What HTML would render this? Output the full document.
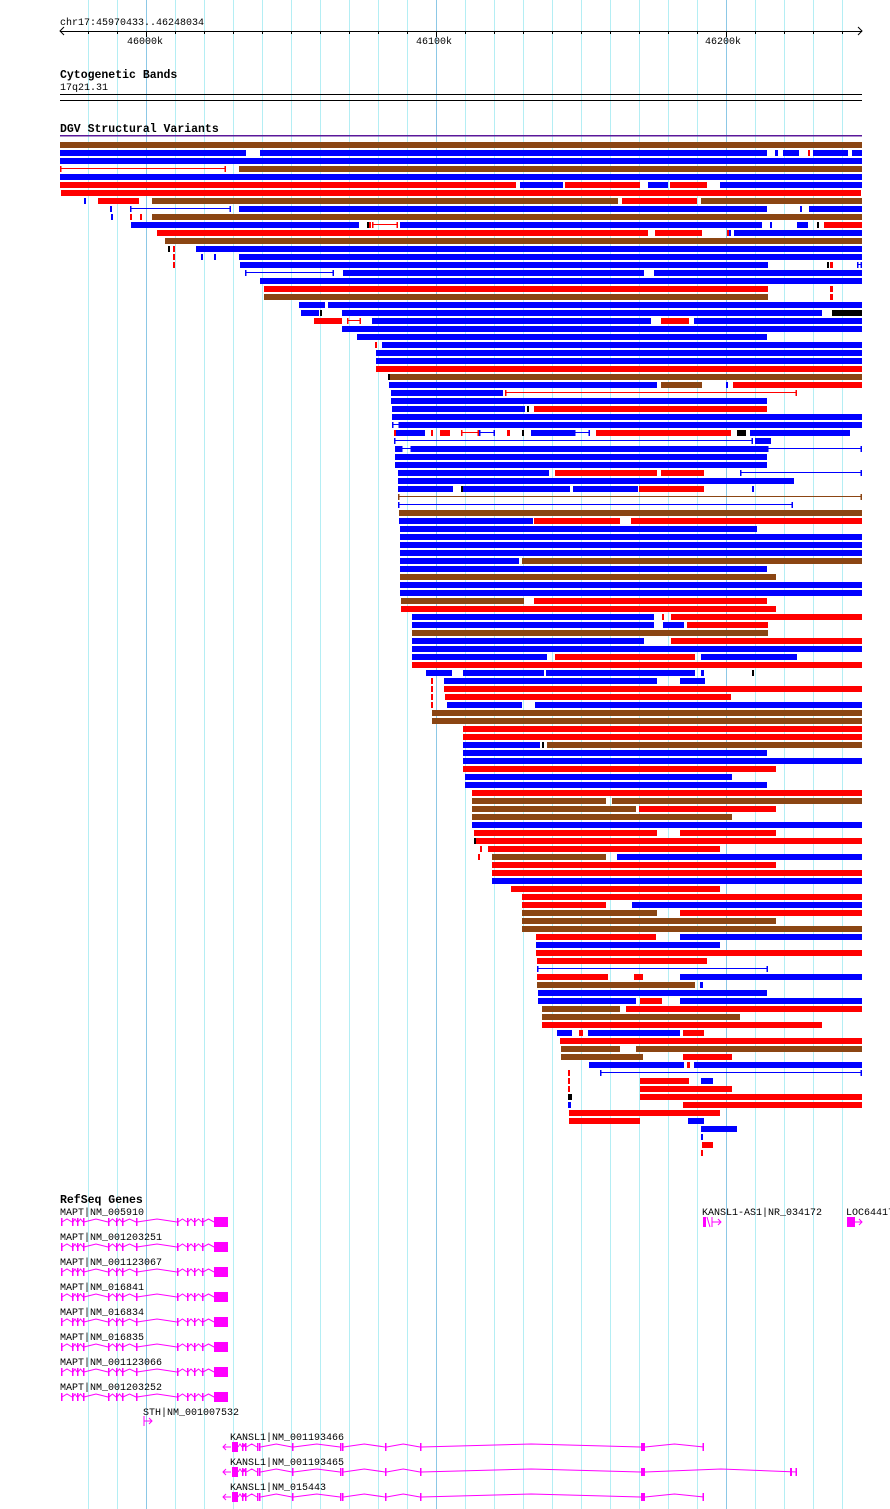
<!DOCTYPE html>
<html><head><meta charset="utf-8">
<style>
html,body{margin:0;padding:0;background:#fff;}
svg{display:block;}
text{font-family:"Liberation Mono",monospace;font-size:10px;fill:#000;}
.t{font-weight:bold;font-size:11.5px;}
</style></head><body>
<svg id="s" width="890" height="1509" xmlns="http://www.w3.org/2000/svg">
<g id="grid"></g>
<text x="60" y="25">chr17:45970433..46248034</text>
<text x="127" y="44">46000k</text>
<text x="416" y="44">46100k</text>
<text x="705" y="44">46200k</text>
<g id="axis"></g>
<text class="t" x="60" y="78">Cytogenetic Bands</text>
<text x="60" y="90">17q21.31</text>
<rect x="60" y="94" width="802" height="1" fill="#000"/>
<rect x="60" y="100" width="802" height="1" fill="#000"/>
<text class="t" x="60" y="132">DGV Structural Variants</text>
<rect x="60" y="135" width="802" height="1.5" fill="#5a189a"/>
<g id="sv"></g>
<text class="t" x="60" y="1203">RefSeq Genes</text>
<text x="60" y="1215">MAPT|NM_005910</text>
<text x="60" y="1240">MAPT|NM_001203251</text>
<text x="60" y="1265">MAPT|NM_001123067</text>
<text x="60" y="1290">MAPT|NM_016841</text>
<text x="60" y="1315">MAPT|NM_016834</text>
<text x="60" y="1340">MAPT|NM_016835</text>
<text x="60" y="1365">MAPT|NM_001123066</text>
<text x="60" y="1390">MAPT|NM_001203252</text>
<text x="143" y="1415">STH|NM_001007532</text>
<text x="230" y="1440">KANSL1|NM_001193466</text>
<text x="230" y="1465">KANSL1|NM_001193465</text>
<text x="230" y="1490">KANSL1|NM_015443</text>
<text x="702" y="1215">KANSL1-AS1|NR_034172</text>
<text x="846" y="1215">LOC644172</text>
<g id="genes"></g>
</svg>
<script>
var NS="http://www.w3.org/2000/svg";
function el(p,n,a){var e=document.createElementNS(NS,n);for(var k in a)e.setAttribute(k,a[k]);p.appendChild(e);return e;}
var G=document.getElementById('grid');
for(var x=60+29;x<862;x+=29){var dark=(x===147||x===437||x===727);
 var xx=x-1; el(G,'rect',{x:xx,y:0,width:1,height:1509,fill:dark?'#8cc8e6':'#b4eef4'});}
var A=document.getElementById('axis');
el(A,'rect',{x:60,y:31,width:802,height:1,fill:'#000'});
el(A,'path',{d:'M64,27 L60,31 L64,35 M858,27 L862,31 L858,35',stroke:'#000',fill:'none'});
for(var x=89;x<862;x+=29){el(A,'rect',{x:x-1,y:31,width:1,height:(x===147||x===437||x===727)?6:3,fill:'#000'});}
var C={b:'#0000ff',r:'#ff0000',n:'#8b4513',k:'#000000'};
var R=[
"60 862 n","60 246 b,260 767 b,775 778 b,783 799 b,808 810 r,813 848 b,852 862 b","60 862 b","60 226 R,239 862 n","60 862 b",
"60 516 r,520 563 b,565 640 r,648 668 b,670 707 r,720 862 b","61 861 r","84 86 b,98 100 r,100 139 r,152 618 n,622 697 r,701 862 n",
"110 112 b,130 231 B,239 767 b,800 802 b,809 862 b","111 113 b,130 132 r,140 142 r,152 862 n",
"131 359 b,367 369 k,369 371 r,372 398 R,400 762 b,770 772 b,797 808 b,817 819 k,824 862 r",
"157 648 r,655 702 r,727 729 r,729 731 b,734 862 b","165 862 n","168 170 k,173 175 r,196 862 b","173 175 r,201 203 b,214 216 b,239 862 b",
"173 175 r,240 768 b,827 829 k,830 833 r,857 862 B","245 334 B,343 644 b,654 862 b","260 862 b","264 768 r,830 833 r","264 768 n,830 833 r",
"299 325 b,328 862 b","301 319 b,320 322 k,342 822 b,832 862 k","314 342 r,347 361 R,372 651 b,661 689 r,694 862 b","342 862 b","357 767 b",
"375 377 r,382 862 b","376 862 b","376 862 b","376 862 r","388 390 k,390 862 n","389 657 b,661 702 n,726 728 b,733 862 r",
"391 503 b,505 797 R","391 767 b","392 525 b,527 529 k,534 767 r","392 862 b","392 400 B,400 862 b",
"394 396 r,396 425 b,431 433 r,440 450 r,461 479 R,479 495 B,507 510 r,522 524 k,531 574 b,574 590 B,596 731 r,737 746 k,750 850 b",
"394 753 B,755 771 b","395 401 b,401 412 B,412 767 b,767 862 B","395 767 b","395 767 b",
"398 549 b,555 657 r,661 704 r,740 862 B","398 794 b","398 453 b,461 463 k,463 570 b,573 638 b,639 704 r,752 754 b",
"398 862 N","398 793 B","399 862 n","399 533 b,534 620 r,631 862 r","400 757 b","400 862 b","400 862 b","400 862 b",
"400 519 b,522 862 n","400 767 b","400 776 n","400 862 b","400 862 b","401 524 n,534 767 r","401 776 r",
"412 654 b,662 664 r,671 862 r","412 654 b,663 684 b,687 768 r","412 768 n","412 644 b,671 862 r","412 862 b",
"412 547 b,555 695 r,701 797 b","412 862 r","426 452 b,463 544 b,546 695 b,701 704 b,752 754 k",
"431 433 r,444 657 b,680 705 b","431 433 r,444 862 r","431 433 r,445 731 r","431 433 r,447 522 b,535 862 b",
"432 862 n","432 862 n","463 862 r","463 862 r","463 540 b,542 544 k,547 862 n","463 767 b","463 862 b","463 776 r",
"465 732 b","465 767 b","472 862 r","472 606 n,612 862 n","472 636 n,639 776 r","472 732 n","472 862 b",
"474 657 r,680 776 r","474 476 k,476 862 r","480 482 r,488 720 r","478 480 r,492 606 n,617 862 b","492 776 r","492 862 r","492 862 b",
"511 720 r","522 862 r","522 606 r,632 862 b","522 657 n,680 862 r","522 776 n","522 862 n","536 656 r,680 862 b","536 720 b",
"536 862 r","537 707 r","537 768 B","537 608 r,634 643 r,680 862 b","537 695 n,700 703 b","538 767 b",
"538 636 b,640 662 r,680 862 b","542 620 n,626 862 r","542 740 n","542 822 r","557 572 b,579 583 r,588 680 b,683 704 r",
"560 862 r","561 620 n,636 862 n","561 643 n,683 732 r","589 684 b,687 690 r,694 862 b","568 570 r,600 862 B",
"568 570 r,640 689 r,701 713 b","568 570 r,640 732 r","568 572 k,640 862 r","568 571 b,683 862 r","569 720 r",
"569 640 r,688 704 b","701 737 b","701 703 b","702 713 r","701 703 r"
];
var S=document.getElementById('sv');
R.forEach(function(row,i){var y=142+8*i;row.split(',').forEach(function(s){var p=s.trim().split(' ');var a=+p[0],b=+p[1],c=p[2];
 if(c===c.toUpperCase()){var col=C[c.toLowerCase()];el(S,'rect',{x:a,y:y+2,width:b-a,height:1,fill:col});
  el(S,'rect',{x:a,y:y,width:1.5,height:6,fill:col});el(S,'rect',{x:b-1.5,y:y,width:1.5,height:6,fill:col});}
 else el(S,'rect',{x:a,y:y,width:b-a,height:6,fill:C[c]});});});
var M='#ff00ff',Gn=document.getElementById('genes');
function gene(y,x1,x2,ex,introns){ // thin line with carets
 var d='';for(var i=0;i<introns.length;i++){var a=introns[i][0],b=introns[i][1],m=(a+b)/2;d+='M'+a+','+y+' L'+m+','+(y-3)+' L'+b+','+y+' ';}
 el(Gn,'path',{d:d,stroke:M,fill:'none','stroke-width':1});
 ex.forEach(function(e){el(Gn,'rect',{x:e[0],y:y-(e[2]||5),width:e[1]-e[0],height:2*(e[2]||5),fill:M});});}
var mx=[61,72,77,83,108,116,122,136,177,187,194,202];
for(var g=0;g<8;g++){var y=1222+25*g;var ex=[],it=[];var prev=60;
 mx.forEach(function(x){ex.push([x,x+1.5,4]);if(x>prev+1)it.push([prev,x]);prev=x+1;});
 it.push([prev,214]);ex.push([214,228,5]);gene(y,60,228,ex,it);}
// STH
el(Gn,'path',{d:'M144,1416 L144,1426 M144,1421 L152,1421 M149,1418 L152,1421 L149,1424',stroke:M,fill:'none'});
// KANSL1
var kx=[242,245,257,259,292,340,342,385,420,641];
for(var g=0;g<3;g++){var y=1447+25*g;var end=(g===1)?797:704;var ex=[[232,238,5]],it=[];var prev=238;
 kx.forEach(function(x){var w=(x===641)?4:1.5;ex.push([x,x+w,4]);if(x>prev+1)it.push([prev,x]);prev=x+w;});
 it.push([prev,end]);ex.push([end-1.5,end,4]);if(g===1)ex.push([790,792,4]);
 gene(y,223,end,ex,it);
 el(Gn,'path',{d:'M231,'+y+' L223,'+y+' M226,'+(y-3)+' L223,'+y+' L226,'+(y+3),stroke:M,fill:'none'});}
// KANSL1-AS1
el(Gn,'rect',{x:703,y:1217,width:3,height:10,fill:M});
el(Gn,'path',{d:'M707,1217 L710,1227 M712,1217 L712,1227 M712,1222 L721,1222 M718,1219 L721,1222 L718,1225',stroke:M,fill:'none'});
// LOC
el(Gn,'rect',{x:847,y:1217,width:8,height:10,fill:M});
el(Gn,'path',{d:'M855,1222 L862,1222 M859,1219 L862,1222 L859,1225',stroke:M,fill:'none'});
</script>
</body></html>
